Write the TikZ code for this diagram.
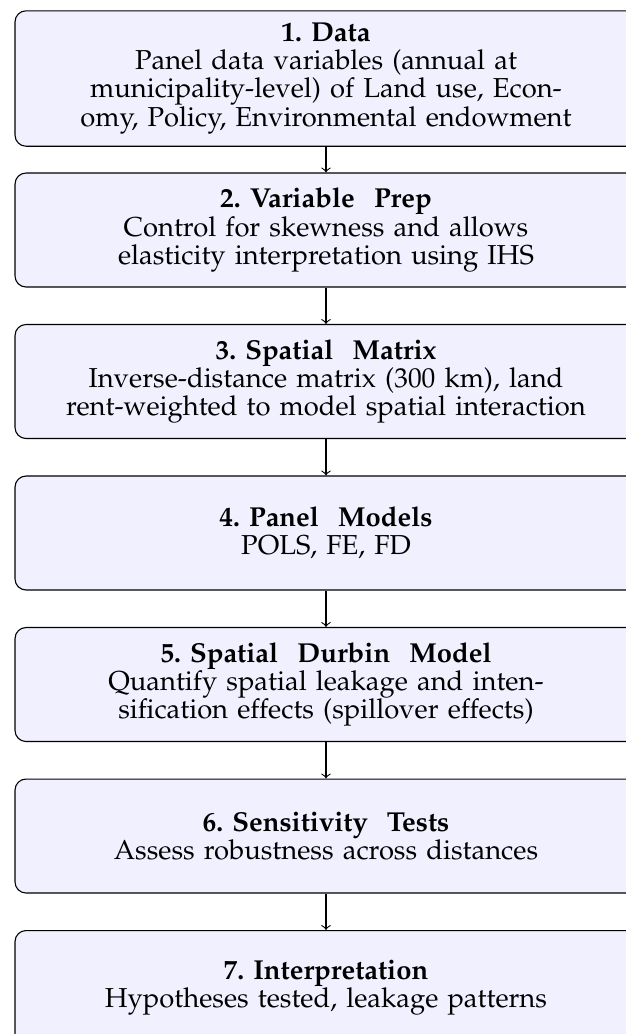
\documentclass[tikz,border=0pt]{standalone}
\usepackage[T1]{fontenc}
\usepackage{mathpazo}
\usepackage{tikz}

\newcommand{\headgap}{\hspace{0.7em}}

\begin{document}
\begin{tikzpicture}[x=0.365pt, y=-0.365pt, node distance={55.3pt}, >=to,
    stepbox/.style = {draw, rounded corners=4pt, fill=blue!6, minimum width=227pt, minimum height=41.6pt, text width=205pt, align=center, inner ysep=4.5pt, font=\fontsize{10}{10.3}\selectfont}]
    \useasboundingbox (0,0) rectangle (625,1034);
    \node[stepbox] (data) at (326,78.5) {\textbf{1.~Data}\\ Panel data variables (annual at\\ municipality-level) of Land use, Econ-\\ omy, Policy, Environmental endowment};
    \node[stepbox] (prep) [below of = data] {\textbf{2.~Variable\headgap Prep}\\ Control for skewness and allows\\ elasticity interpretation using IHS};
    \node[stepbox] (matrix) [below of = prep] {\textbf{3.~Spatial\headgap Matrix}\\ Inverse-distance matrix (300 km), land\\ rent-weighted to model spatial interaction};
    \node[stepbox] (panel) [below of = matrix] {\textbf{4.~Panel\headgap Models}\\ POLS, FE, FD};
    \node[stepbox] (durbin) [below of = panel] {\textbf{5.~Spatial\headgap Durbin\headgap Model}\\ Quantify spatial leakage and inten-\\ sification effects (spillover effects)};
    \node[stepbox] (sens) [below of = durbin] {\textbf{6.~Sensitivity\headgap Tests}\\ Assess robustness across distances};
    \node[stepbox] (interp) [below of = sens] {\textbf{7.~Interpretation}\\ Hypotheses tested, leakage patterns};
    \draw[->] (data) -- (prep);
    \draw[->] (prep) -- (matrix);
    \draw[->] (matrix) -- (panel);
    \draw[->] (panel) -- (durbin);
    \draw[->] (durbin) -- (sens);
    \draw[->] (sens) -- (interp);
\end{tikzpicture}
\end{document}
